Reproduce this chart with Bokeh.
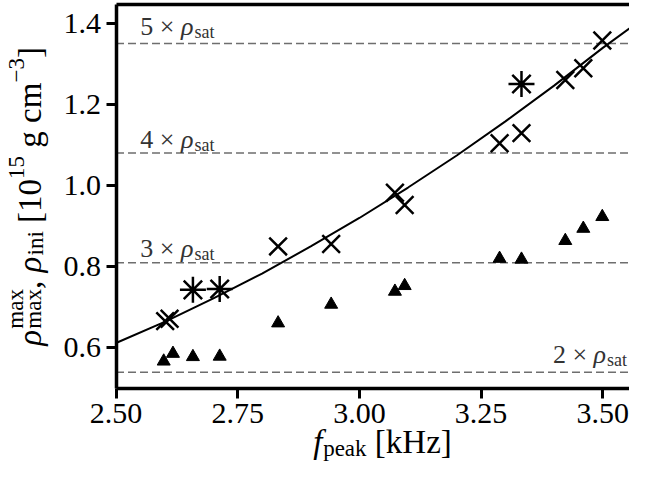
import math
from bokeh.plotting import figure
from bokeh.models import Range1d, FixedTicker, NumeralTickFormatter, LinearAxis, Label
from bokeh.embed import file_html
from bokeh.resources import INLINE

# ---------------- data ----------------
# maximum density, "x" markers
cross_f = [2.601, 2.610, 2.833, 2.942, 3.073, 3.093, 3.288, 3.333, 3.423, 3.460, 3.499]
cross_rho = [0.666, 0.672, 0.850, 0.856, 0.982, 0.952, 1.104, 1.129, 1.260, 1.289, 1.357]
# maximum density, asterisk markers
star_f = [2.658, 2.713, 3.333]
star_rho = [0.743, 0.745, 1.250]
# initial density, triangles
tri_f = [2.598, 2.617, 2.658, 2.713, 2.833, 2.942, 3.073, 3.093, 3.288, 3.333, 3.423, 3.460, 3.499]
tri_rho = [0.567, 0.586, 0.578, 0.579, 0.661, 0.707, 0.739, 0.753, 0.820, 0.818, 0.864, 0.894, 0.923]
# fitted curve
fit_f = [2.50, 2.60, 2.70, 2.80, 2.90, 3.00, 3.10, 3.20, 3.30, 3.40, 3.50, 3.60]
fit_rho = [0.612, 0.664, 0.722, 0.783, 0.850, 0.920, 0.995, 1.074, 1.158, 1.246, 1.339, 1.426]
# saturation density multiples
rho_sat = 0.27
sat_multiples = [2, 3, 4, 5]
x_ticks = [2.50, 2.75, 3.00, 3.25, 3.50]
y_ticks = [0.6, 0.8, 1.0, 1.2, 1.4]

# axes extents (data region drawn with spines)
X0, X1 = 2.5, 3.6
Y0, Y1 = 0.5, 1.446

FONT = "Liberation Serif"

# approximate advance widths (em) for Liberation Serif
W = {' ': 0.25, '.': 0.25, ',': 0.25, '[': 0.333, ']': 0.333, 'g': 0.5, 'c': 0.444,
     'm': 0.778, 'k': 0.5, 'H': 0.722, 'z': 0.444, 'p': 0.5, 'e': 0.444, 'a': 0.444,
     's': 0.389, 't': 0.278, 'i': 0.278, 'n': 0.5, 'x': 0.5, 'f': 0.30, 'ρ': 0.52,
     '×': 0.564, '−': 0.564}
BASE_FIX = 0.25  # empirical baseline correction (em)


def tw(s, size):
    return sum(W.get(ch, 0.5) for ch in s) * size


def rich(p, pieces, x, y, units="screen", angle=0.0, anchor="left", color="black", fix_size=None):
    total = sum(tw(t, s) for t, s, r, it, adv in pieces if adv)
    pos = {"left": 0.0, "center": -total / 2, "right": -total}[anchor]
    fs = fix_size or max(s for t, s, r, it, adv in pieces)
    lift = BASE_FIX * fs
    for t, s, r, it, adv in pieces:
        lead = len(t) - len(t.lstrip(" "))
        body = t.strip(" ")
        start = pos + lead * W[' '] * s
        if angle == 0:
            xo, yo = start, r + lift
        else:
            xo, yo = -(r + lift), start
        if body:
            p.add_layout(Label(x=x, y=y, x_units=units, y_units=units, x_offset=xo, y_offset=yo,
                               text=body, angle=angle, text_font=FONT, text_font_size=f"{s}px",
                               text_font_style="italic" if it else "normal", text_color=color,
                               text_baseline="alphabetic", text_align="left"))
        if adv:
            pos += tw(t, s)


p = figure(width=629, height=464, output_backend="svg", toolbar_location=None,
           x_range=Range1d(2.2627, 3.5549), y_range=Range1d(0.3128, 1.4557),
           min_border_left=0, min_border_right=0, min_border_top=0, min_border_bottom=0)
p.outline_line_color = None
p.grid.visible = False
p.background_fill_color = "white"
p.border_fill_color = "white"

# axes styling (axes sit inside the canvas at the data edges)
p.xaxis.fixed_location = Y0
p.yaxis.fixed_location = X0
p.xaxis.bounds = (X0, X1)
p.yaxis.bounds = (Y0, Y1)
for ax in (p.xaxis[0], p.yaxis[0]):
    ax.axis_line_width = 3.5
    ax.axis_line_color = "black"
    ax.major_tick_line_width = 3
    ax.major_tick_line_color = "black"
    ax.major_tick_out = 10
    ax.major_tick_in = 0
    ax.minor_tick_out = 0
    ax.minor_tick_in = 0
    ax.major_label_text_font = FONT
    ax.major_label_text_font_size = "30px"
    ax.major_label_text_color = "black"
p.xaxis.ticker = FixedTicker(ticks=x_ticks)
p.yaxis.ticker = FixedTicker(ticks=y_ticks)
p.xaxis.formatter = NumeralTickFormatter(format="0.00")
p.yaxis.formatter = NumeralTickFormatter(format="0.0")
p.xaxis.major_label_standoff = 6
p.yaxis.major_label_standoff = 5

top = LinearAxis(ticker=FixedTicker(ticks=[]), major_label_text_font_size="0px",
                 axis_line_width=3.5, axis_line_color="black", major_tick_out=0, major_tick_in=0,
                 minor_tick_out=0, minor_tick_in=0, major_label_standoff=0,
                 fixed_location=Y1, bounds=(X0, X1))
p.add_layout(top, "above")

# saturation-density reference lines
levels = [m * rho_sat for m in sat_multiples]
p.segment(x0=[X0] * len(levels), y0=levels, x1=[X1] * len(levels), y1=levels,
          line_color="#6e6e6e", line_width=1.5, line_dash="8 4")

# their labels
sat_label_pos = {2: (3.550, 0.567, "right"), 3: (2.550, 0.828, "left"),
                 4: (2.550, 1.097, "left"), 5: (2.550, 1.375, "left")}
for m in sat_multiples:
    fx, fy, anc = sat_label_pos[m]
    rich(p, [(f"{m} × ", 26, 0, False, True), ("ρ", 26, 0, True, True),
             ("sat", 18, -5, False, True)],
         fx, fy, units="data", anchor=anc, color="#333333")

# fit curve and markers
p.line(fit_f, fit_rho, line_color="black", line_width=2)
p.scatter(tri_f, tri_rho, marker="triangle", size=13, fill_color="black", line_color="black")
p.scatter(cross_f, cross_rho, marker="x", size=25, line_color="black", line_width=2.5)
p.scatter(star_f, star_rho, marker="asterisk", size=26, line_color="black", line_width=2.5)

# x axis label: f_peak [kHz]
rich(p, [("f", 33, 0, True, True), ("peak", 23, -6, False, True), (" [kHz]", 33, 0, False, True)],
     382, 14, anchor="center")

# y axis label: rho^max_max, rho_ini [10^15 g cm^-3]
rich(p, [("ρ", 33, 0, True, True), ("max", 23, 15, False, False), ("max", 23, -3, False, True),
         (", ", 33, 0, False, True), ("ρ", 33, 0, True, True), ("ini", 23, -5, False, True),
         (" [10", 33, 0, False, True), ("15", 23, 14, False, True), (" g cm", 33, 0, False, True),
         ("−3", 23, 14, False, True), ("]", 33, 0, False, True)],
     38, 268, angle=math.pi / 2, anchor="center")

open("out.html", "w").write(file_html(p, INLINE))
